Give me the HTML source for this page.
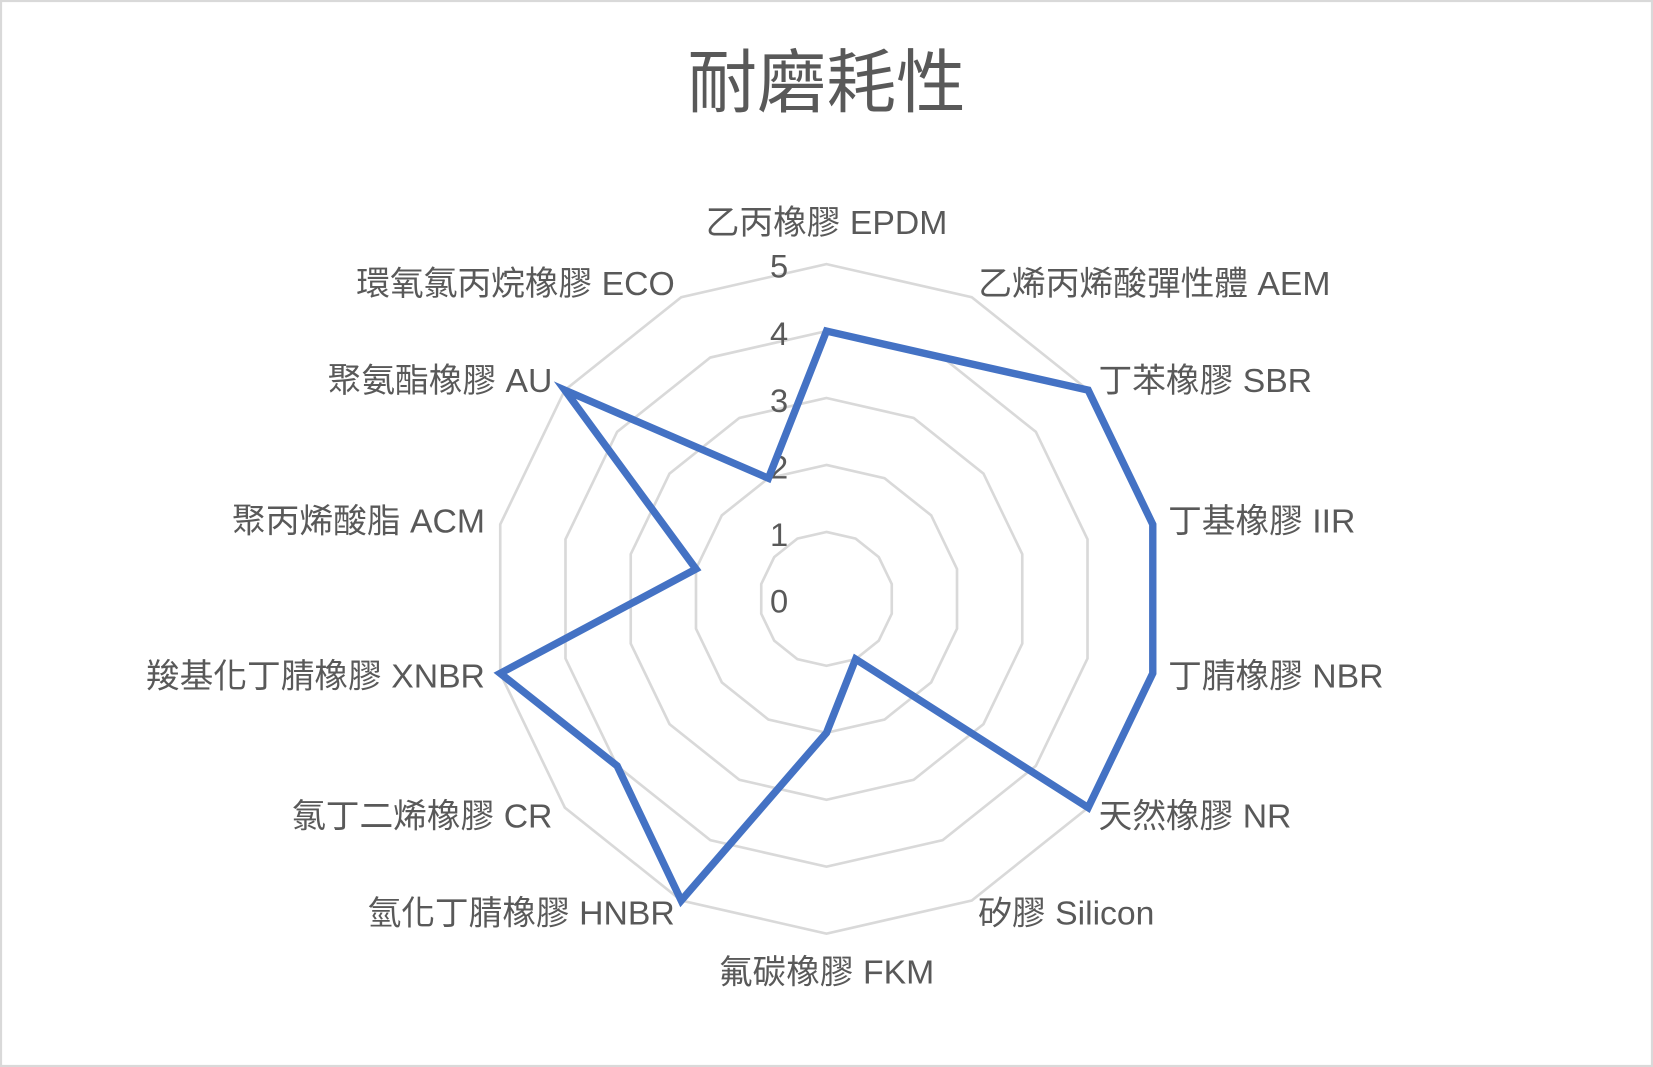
<!DOCTYPE html>
<html><head><meta charset="utf-8"><style>
html,body{margin:0;padding:0;background:#fff;}
svg{display:block;}
text{font-family:"Liberation Sans","Noto Sans CJK TC",sans-serif;fill:#595959;}
</style></head><body>
<svg width="1653" height="1067" viewBox="0 0 1568 1012" preserveAspectRatio="none" xmlns="http://www.w3.org/2000/svg">
<rect x="1" y="1" width="1566" height="1010" fill="#fff" stroke="#d9d9d9" stroke-width="2"/>
<text x="784" y="101" font-size="66" text-anchor="middle">耐磨耗性</text>
<g fill="none" stroke="#d9d9d9" stroke-width="2.5">
<polygon points="784,504.5 811.6,510.8 833.6,528.4 845.9,553.9 845.9,582.1 833.6,607.6 811.6,625.2 784,631.5 756.4,625.2 734.4,607.6 722.1,582.1 722.1,553.9 734.4,528.4 756.4,510.8"/>
<polygon points="784,441 839.1,453.6 883.3,488.8 907.8,539.7 907.8,596.3 883.3,647.2 839.1,682.4 784,695 728.9,682.4 684.7,647.2 660.2,596.3 660.2,539.7 684.7,488.8 728.9,453.6"/>
<polygon points="784,377.5 866.7,396.4 932.9,449.2 969.7,525.6 969.7,610.4 932.9,686.8 866.7,739.6 784,758.5 701.3,739.6 635.1,686.8 598.3,610.4 598.3,525.6 635.1,449.2 701.3,396.4"/>
<polygon points="784,314 894.2,339.1 982.6,409.6 1031.6,511.5 1031.6,624.5 982.6,726.4 894.2,796.9 784,822 673.8,796.9 585.4,726.4 536.4,624.5 536.4,511.5 585.4,409.6 673.8,339.1"/>
<polygon points="784,250.5 921.8,281.9 1032.2,370 1093.5,497.4 1093.5,638.6 1032.2,766 921.8,854.1 784,885.5 646.2,854.1 535.8,766 474.5,638.6 474.5,497.4 535.8,370 646.2,281.9"/>
</g>
<g font-size="31" text-anchor="middle">
<text x="739" y="581">0</text><text x="739" y="518">1</text><text x="739" y="454">2</text>
<text x="739" y="391">3</text><text x="739" y="327">4</text><text x="739" y="263">5</text>
</g>
<polygon fill="none" stroke="#4472c4" stroke-width="7" points="784,314 894.2,339.1 1032.2,370 1093.5,497.4 1093.5,638.6 1032.2,766 811.6,625.2 784,695 646.2,854.1 585.4,726.4 474.5,638.6 660.2,539.7 535.8,370 728.9,453.6"/>
<g font-size="32">
<text x="784" y="222" text-anchor="middle">乙丙橡膠 EPDM</text>
<text x="928" y="280">乙烯丙烯酸彈性體 AEM</text>
<text x="1042" y="372">丁苯橡膠 SBR</text>
<text x="1108" y="505">丁基橡膠 IIR</text>
<text x="1108" y="652">丁腈橡膠 NBR</text>
<text x="1042" y="785">天然橡膠 NR</text>
<text x="928" y="877">矽膠 Silicon</text>
<text x="784" y="933" text-anchor="middle">氟碳橡膠 FKM</text>
<text x="640" y="877" text-anchor="end">氫化丁腈橡膠 HNBR</text>
<text x="524" y="785" text-anchor="end">氯丁二烯橡膠 CR</text>
<text x="460" y="652" text-anchor="end">羧基化丁腈橡膠 XNBR</text>
<text x="460" y="505" text-anchor="end">聚丙烯酸脂 ACM</text>
<text x="524" y="372" text-anchor="end">聚氨酯橡膠 AU</text>
<text x="640" y="280" text-anchor="end">環氧氯丙烷橡膠 ECO</text>
</g>
</svg>
</body></html>
